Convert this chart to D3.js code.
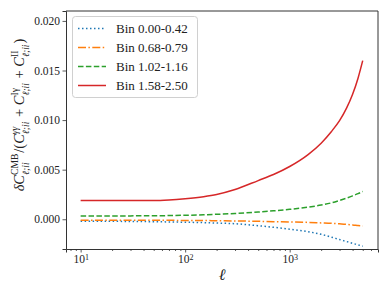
<!DOCTYPE html>
<html>
<head>
<meta charset="utf-8">
<script src="https://cdn.jsdelivr.net/npm/d3@7"></script>
<style>
  body { margin: 0; background: #fff; }
  svg { display: block; font-family: "Liberation Serif", serif; }
</style>
</head>
<body>
<section></section>
<script>
// multipole values shared by every bin
const ell = [10, 20, 30, 50, 70, 100, 150, 200, 300, 500, 700, 1000, 1500, 2000, 2500, 3000, 3500, 4000, 4500, 5000];

const bin1 = [-0.00020, -0.00021, -0.00022, -0.00025, -0.00027, -0.00030, -0.00034, -0.00038, -0.00045, -0.00065, -0.00081, -0.00100, -0.00125, -0.00152, -0.00180, -0.00205, -0.00225, -0.00243, -0.00258, -0.00272];
const bin2 = [-0.00010, -0.00010, -0.00010, -0.00011, -0.00011, -0.00012, -0.00013, -0.00015, -0.00017, -0.00021, -0.00024, -0.00027, -0.00032, -0.00037, -0.00041, -0.00046, -0.00052, -0.00057, -0.00063, -0.00068];
const bin3 = [0.00032, 0.00033, 0.00034, 0.00035, 0.00037, 0.00040, 0.00045, 0.00050, 0.00058, 0.00073, 0.00085, 0.00100, 0.00122, 0.00143, 0.00165, 0.00190, 0.00213, 0.00236, 0.00258, 0.00280];
const bin4 = [0.00190, 0.00189, 0.00188, 0.00188, 0.00194, 0.00207, 0.00228, 0.00250, 0.00300, 0.00390, 0.00451, 0.00532, 0.00652, 0.00767, 0.00883, 0.00994, 0.01120, 0.01260, 0.01420, 0.01600];

const binLabels = ["Bin 0.00-0.42", "Bin 0.68-0.79", "Bin 1.02-1.16", "Bin 1.58-2.50"];

const yTicks = [0, 0.005, 0.010, 0.015, 0.020];
const xMajor = [10, 100, 1000];

const WIDTH = 390;
const HEIGHT = 293;

// plot box, in pixels
const LEFT = 66, RIGHT = 378, TOP = 11, BOTTOM = 249;

const COLORS = ["#1f77b4", "#ff7f0e", "#2ca02c", "#d62728"];
const DASHES = ["1.5,2.5", "8,2.4,1.5,2.4", "5.5,2.4", null];

const svg = d3.select("section")
  .append("svg")
  .attr("width", WIDTH)
  .attr("height", HEIGHT);

const xScale = d3.scaleLog()
  .domain([Math.pow(10, 0.86), Math.pow(10, 3.845)])
  .range([LEFT, RIGHT]);

const yScale = d3.scaleLinear()
  .domain([-0.003, 0.021])
  .range([BOTTOM, TOP]);

// minor log ticks 2..9 of every decade inside the domain
const xMinor = [];
[1, 10, 100, 1000].forEach(dec => {
  for (let k = 2; k <= 9; k++) {
    const v = k * dec;
    if (v > xScale.domain()[0] && v < xScale.domain()[1]) xMinor.push(v);
  }
});

// lines
const series = [bin1, bin2, bin3, bin4];
const line = d3.line()
  .x((d, i) => xScale(ell[i]))
  .y(d => yScale(d))
  .curve(d3.curveMonotoneX);

svg.selectAll("path.bin")
  .data(series)
  .enter()
  .append("path")
  .attr("class", "bin")
  .attr("d", d => line(d))
  .attr("fill", "none")
  .attr("stroke", (d, i) => COLORS[i])
  .attr("stroke-width", 1.5)
  .attr("stroke-dasharray", (d, i) => DASHES[i]);

// axes
const xAxis = svg.append("g")
  .attr("transform", "translate(0," + BOTTOM + ")")
  .call(d3.axisBottom(xScale).tickValues(xMajor).tickSize(3.5).tickPadding(2.5).tickFormat(""));

xAxis.selectAll(".tick text")
  .attr("font-size", 11.5)
  .attr("font-family", "Liberation Serif")
  .attr("fill", "#222")
  .each(function(d) {
    const t = d3.select(this);
    t.text("10");
    t.append("tspan")
      .attr("dy", "-0.45em")
      .attr("font-size", 8)
      .text(Math.round(Math.log10(d)));
  });

svg.append("g")
  .attr("transform", "translate(0," + BOTTOM + ")")
  .call(d3.axisBottom(xScale).tickValues(xMinor).tickSize(2).tickFormat(""))
  .call(g => g.select(".domain").remove());

svg.append("g")
  .attr("transform", "translate(" + LEFT + ",0)")
  .call(d3.axisLeft(yScale).tickValues(yTicks).tickSize(3.5).tickPadding(2.5).tickFormat(d3.format(".3f")))
  .call(g => g.selectAll(".tick text")
    .attr("font-size", 11.5)
    .attr("font-family", "Liberation Serif")
    .attr("fill", "#222"));

svg.selectAll(".domain").attr("stroke", "#333").attr("stroke-width", 1);
svg.selectAll(".tick line").attr("stroke", "#333").attr("stroke-width", 0.8);

// frame: top and right spines
svg.append("path")
  .attr("d", "M" + LEFT + "," + TOP + "H" + RIGHT + "V" + BOTTOM)
  .attr("fill", "none")
  .attr("stroke", "#333")
  .attr("stroke-width", 1);

// x label
svg.append("text")
  .attr("x", (LEFT + RIGHT) / 2)
  .attr("y", 280)
  .attr("text-anchor", "middle")
  .attr("font-size", 16)
  .attr("font-style", "italic")
  .attr("fill", "#222")
  .text("ℓ");

// y label, pieced together as math text
const parts = [
  {t: "δC", it: true, sup: "CMB", sub: "ℓ;ii"},
  {t: "/(", it: false},
  {t: "C", it: true, sup: "γγ", supIt: true, sub: "ℓ;ii"},
  {t: " + ", it: false},
  {t: "C", it: true, sup: "Iγ", sub: "ℓ;ii"},
  {t: " + ", it: false},
  {t: "C", it: true, sup: "II", sub: "ℓ;ii"},
  {t: ")", it: false}
];

const FS = 14.5;
const ylab = svg.append("g");
const inner = ylab.append("g");
let cx = 0;
parts.forEach(p => {
  const base = inner.append("text")
    .attr("x", cx).attr("y", 0)
    .attr("font-size", FS)
    .attr("font-style", p.it ? "italic" : "normal")
    .attr("fill", "#222")
    .attr("xml:space", "preserve")
    .text(p.t);
  cx += base.node().getComputedTextLength();
  let w = 0;
  if (p.sup) {
    const s = inner.append("text")
      .attr("x", cx).attr("y", -FS * 0.42)
      .attr("font-size", FS * 0.66)
      .attr("font-style", p.supIt ? "italic" : "normal")
      .attr("fill", "#222")
      .text(p.sup);
    w = Math.max(w, s.node().getComputedTextLength());
  }
  if (p.sub) {
    const s = inner.append("text")
      .attr("x", cx).attr("y", FS * 0.32)
      .attr("font-size", FS * 0.66)
      .attr("font-style", "italic")
      .attr("fill", "#222")
      .text(p.sub);
    w = Math.max(w, s.node().getComputedTextLength());
  }
  cx += w + (p.sup ? 1 : 0);
});
inner.attr("transform", "translate(" + (-cx / 2) + ",0)");
ylab.attr("transform", "translate(24,115) rotate(-90)");

// legend
const legend = svg.append("g");
legend.append("rect")
  .attr("x", 72.5).attr("y", 16.5)
  .attr("width", 125).attr("height", 81)
  .attr("rx", 3)
  .attr("fill", "#fff").attr("fill-opacity", 0.8)
  .attr("stroke", "#d0d0d0").attr("stroke-width", 1);

const rows = legend.selectAll("g.row")
  .data(binLabels)
  .enter()
  .append("g")
  .attr("transform", (d, i) => "translate(0," + (28.5 + i * 19) + ")");

rows.append("line")
  .attr("x1", 78).attr("x2", 106)
  .attr("stroke", (d, i) => COLORS[i])
  .attr("stroke-width", 1.5)
  .attr("stroke-dasharray", (d, i) => DASHES[i]);

rows.append("text")
  .attr("x", 116).attr("y", 4.5)
  .attr("font-size", 13)
  .attr("fill", "#222")
  .text(d => d);
</script>
</body>
</html>
